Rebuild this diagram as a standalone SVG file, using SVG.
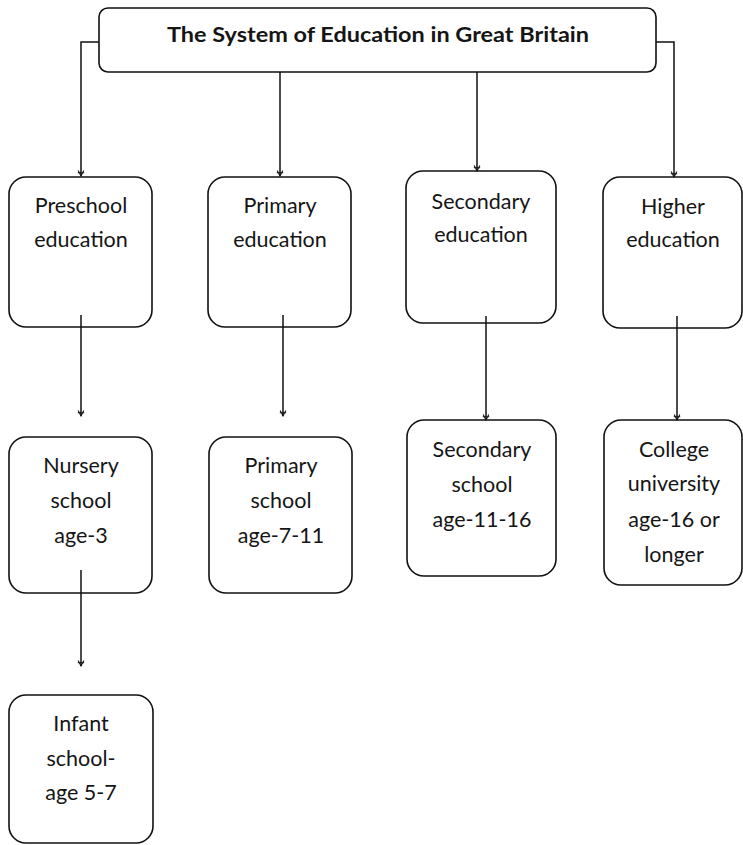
<svg xmlns="http://www.w3.org/2000/svg" width="743" height="845" viewBox="0 0 743 845">
  <style>
    .box { fill: none; stroke: #111; stroke-width: 1.6; }
    .link { fill: none; stroke: #111; stroke-width: 1.5; }
    text { font-family: Lato, "Open Sans", "Liberation Sans", sans-serif; fill: #151515; text-anchor: middle; }
    .title { font-size: 21.5px; font-weight: bold; }
    .lbl { font-size: 21.5px; }
  </style>
  <defs>
    <!-- small arrow tip with a cross bar, pointing along the path -->
    <marker id="tip" viewBox="0 0 10 10" refX="9" refY="5" markerWidth="8" markerHeight="8" markerUnits="userSpaceOnUse" orient="auto">
      <path d="M2 1.5 L9 5 L2 8.5 M5 1 V9" fill="none" stroke="#111" stroke-width="1.3"/>
    </marker>
  </defs>
  <rect width="743" height="845" fill="#fff"/>

  <!-- connectors -->
  <g id="connectors">
    <path class="link" d="M99 42 H81 V176" marker-end="url(#tip)"/>
    <path class="link" d="M280 72 V176" marker-end="url(#tip)"/>
    <path class="link" d="M477 72 V171" marker-end="url(#tip)"/>
    <path class="link" d="M656 42 H674 V177" marker-end="url(#tip)"/>
    <path class="link" d="M81 315 V416" marker-end="url(#tip)"/>
    <path class="link" d="M283 315 V416" marker-end="url(#tip)"/>
    <path class="link" d="M486 316 V420" marker-end="url(#tip)"/>
    <path class="link" d="M677 316 V420" marker-end="url(#tip)"/>
    <path class="link" d="M81 570 V666" marker-end="url(#tip)"/>
  </g>

  <g id="title">
    <rect class="box" x="99" y="8" width="557" height="64" rx="9"/>
    <text class="title" x="378" y="42" textLength="422" lengthAdjust="spacingAndGlyphs">The System of Education in Great Britain</text>
  </g>

  <g id="preschool">
    <rect class="box" x="9" y="177" width="143" height="150" rx="17"/>
    <text class="lbl" x="81" y="213">Preschool</text>
    <text class="lbl" x="81" y="247">education</text>
  </g>
  <g id="primary">
    <rect class="box" x="208" y="177" width="143" height="150" rx="17"/>
    <text class="lbl" x="280" y="213">Primary</text>
    <text class="lbl" x="280" y="247">education</text>
  </g>
  <g id="secondary">
    <rect class="box" x="406" y="171" width="150" height="152" rx="17"/>
    <text class="lbl" x="481" y="209">Secondary</text>
    <text class="lbl" x="481" y="242">education</text>
  </g>
  <g id="higher">
    <rect class="box" x="603" y="177" width="139" height="151" rx="17"/>
    <text class="lbl" x="673" y="214">Higher</text>
    <text class="lbl" x="673" y="247">education</text>
  </g>

  <g id="nursery">
    <rect class="box" x="9" y="437" width="143" height="156" rx="17"/>
    <text class="lbl" x="81" y="473">Nursery</text>
    <text class="lbl" x="81" y="508">school</text>
    <text class="lbl" x="81" y="543">age-3</text>
  </g>
  <g id="primary-school">
    <rect class="box" x="209" y="437" width="143" height="156" rx="17"/>
    <text class="lbl" x="281" y="473">Primary</text>
    <text class="lbl" x="281" y="508">school</text>
    <text class="lbl" x="281" y="543">age-7-11</text>
  </g>
  <g id="secondary-school">
    <rect class="box" x="407" y="420" width="149" height="156" rx="17"/>
    <text class="lbl" x="482" y="457">Secondary</text>
    <text class="lbl" x="482" y="492">school</text>
    <text class="lbl" x="482" y="527">age-11-16</text>
  </g>
  <g id="college">
    <rect class="box" x="604" y="420" width="138" height="165" rx="17"/>
    <text class="lbl" x="674" y="457">College</text>
    <text class="lbl" x="674" y="491">university</text>
    <text class="lbl" x="674" y="527">age-16 or</text>
    <text class="lbl" x="674" y="562">longer</text>
  </g>

  <g id="infant">
    <rect class="box" x="9" y="695" width="144" height="148" rx="17"/>
    <text class="lbl" x="81" y="731">Infant</text>
    <text class="lbl" x="81" y="766">school-</text>
    <text class="lbl" x="81" y="800">age 5-7</text>
  </g>
</svg>
